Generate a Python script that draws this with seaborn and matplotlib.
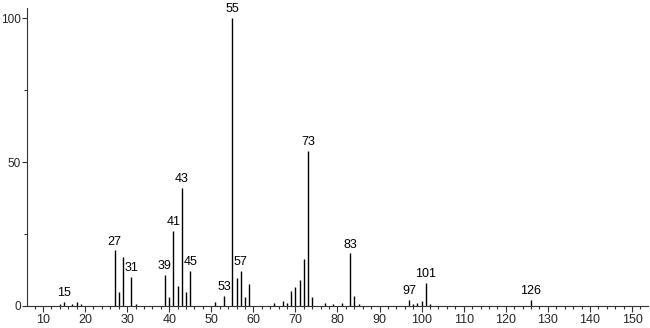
import matplotlib
matplotlib.use("Agg")
import matplotlib.pyplot as plt
from matplotlib.ticker import MultipleLocator
import seaborn as sns
import pandas as pd

# m/z values and relative intensities
mz = [14, 15, 17, 18, 19, 27, 28, 29, 31, 32, 39, 40, 41, 42, 43, 44, 45,
      51, 53, 55, 56, 57, 58, 59, 65, 67, 68, 69, 70, 71, 72, 73, 74,
      77, 79, 81, 83, 84, 85, 97, 98, 99, 100, 101, 102, 126]
intensity = [0.7, 1.5, 0.8, 1.4, 0.8, 19.3, 4.8, 17.1, 10.2, 0.8, 10.8, 3.0, 26.0, 7.0, 41.0, 4.8, 12.3,
             1.5, 3.6, 100.0, 9.6, 12.1, 3.0, 7.6, 0.9, 1.8, 0.9, 5.3, 6.5, 9.0, 16.3, 54.0, 3.0,
             0.9, 0.8, 1.0, 18.3, 3.6, 0.8, 2.1, 0.8, 1.2, 1.7, 7.9, 0.6, 2.0]
labeled = [15, 27, 31, 39, 41, 43, 45, 53, 55, 57, 73, 83, 97, 101, 126]
x_ticks = [10, 20, 30, 40, 50, 60, 70, 80, 90, 100, 110, 120, 130, 140, 150]
y_ticks = [0, 50, 100]

df = pd.DataFrame({"mz": mz, "intensity": intensity})

sns.set_style("ticks")
plt.rcParams["font.family"] = ["Liberation Sans", "DejaVu Sans"]

fig = plt.figure(figsize=(6.5, 3.28), dpi=100)
ax = fig.add_axes([27 / 650, 22 / 328, (648 - 27) / 650, (306 - 8) / 328])

ax.vlines(df["mz"], 0, df["intensity"], color="black", linewidth=1.0)

for m, v in zip(df["mz"], df["intensity"]):
    if m in labeled:
        ax.annotate(str(m), (m, v), xytext=(0, 2), textcoords="offset points",
                    ha="center", va="bottom", fontsize=9, color="black")

ax.set_xlim(6.2, 153.8)
ax.set_ylim(0, 103.5)
ax.set_xticks(x_ticks)
ax.set_yticks(y_ticks)
ax.xaxis.set_minor_locator(MultipleLocator(2))
ax.yaxis.set_minor_locator(MultipleLocator(25))
ax.tick_params(axis="x", which="major", length=4, width=0.8, labelsize=9, pad=1.5, color="#333333")
ax.tick_params(axis="y", which="major", length=3.5, width=0.8, labelsize=8.5, pad=1, color="#333333")
ax.tick_params(axis="both", which="minor", length=2.5, width=0.8, color="#333333")

sns.despine(ax=ax, top=True, right=True)
for s in ["left", "bottom"]:
    ax.spines[s].set_color("#333333")
    ax.spines[s].set_linewidth(0.8)

fig.savefig("out.png", dpi=100)
